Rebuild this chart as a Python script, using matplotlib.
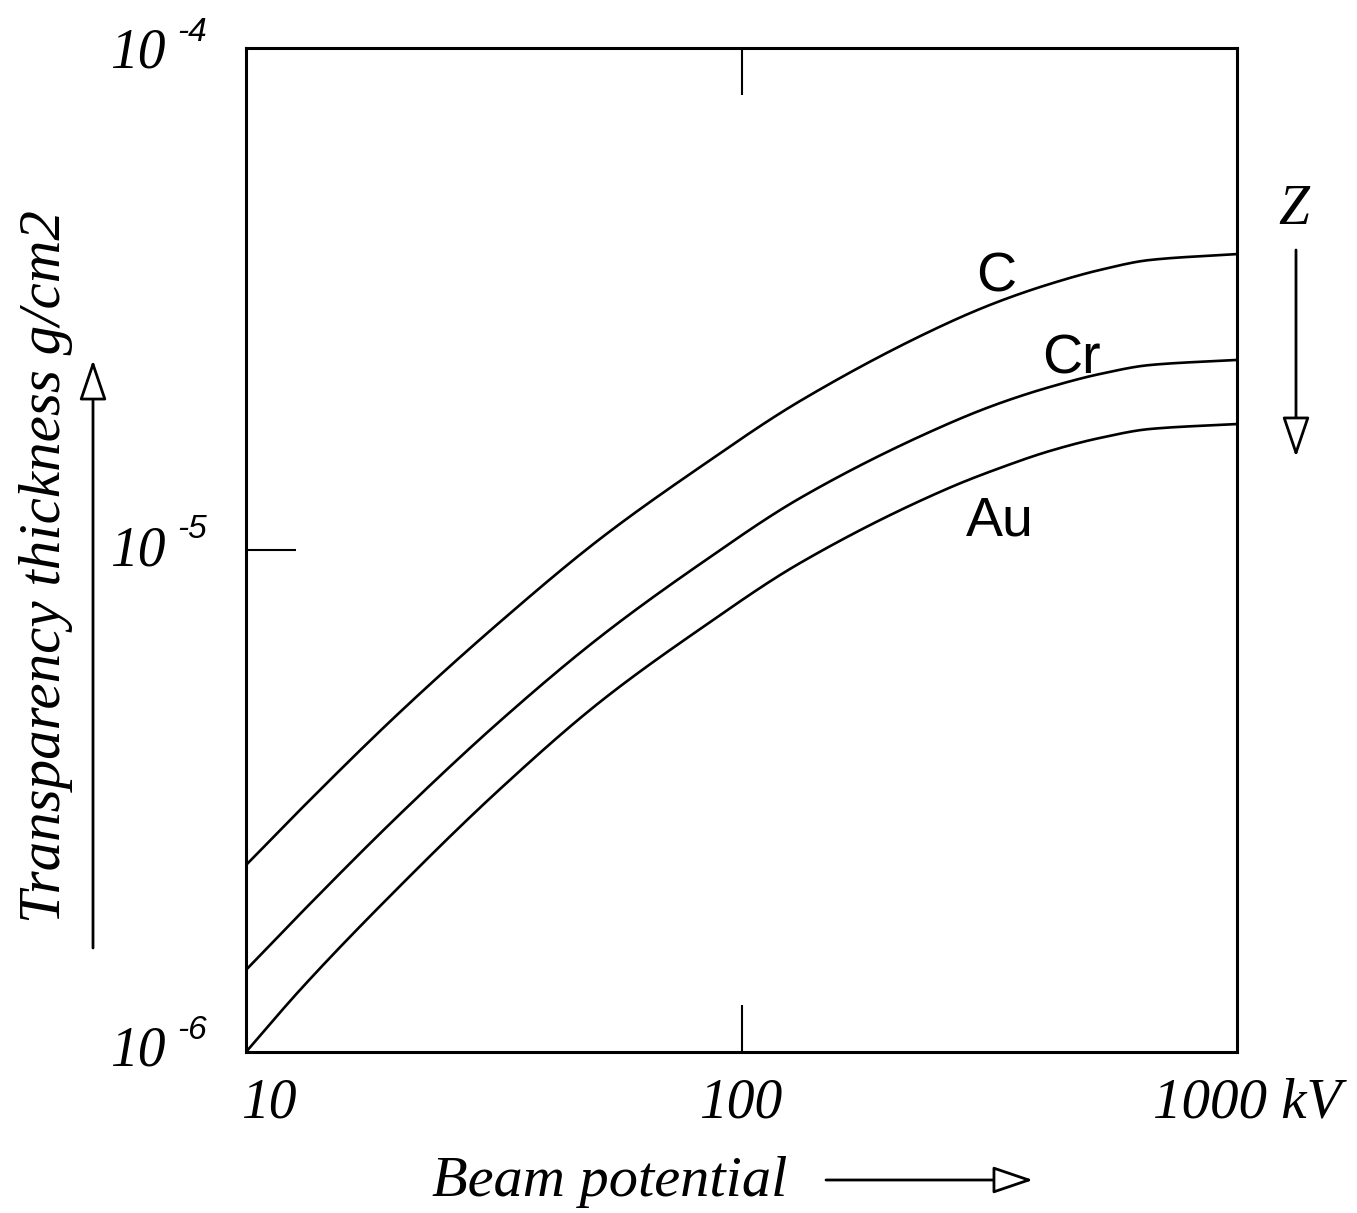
import numpy as np
import matplotlib
matplotlib.use("Agg")
import matplotlib.pyplot as plt
from matplotlib.patches import FancyArrowPatch

# ---- data ----
kv = [10, 12.85, 20.46, 32.56, 51.8, 82.5, 131.3, 263.6, 332.5, 419, 529, 667, 1000]
thick_C = [2.357e-6, 3.035e-6, 4.756e-6, 7.187e-6, 1.052e-5, 1.463e-5, 1.981e-5,
           2.846e-5, 3.133e-5, 3.388e-5, 3.613e-5, 3.782e-5, 3.886e-5]
thick_Cr = [1.457e-6, 1.883e-6, 2.979e-6, 4.565e-6, 6.710e-6, 9.378e-6, 1.269e-5,
            1.791e-5, 1.962e-5, 2.112e-5, 2.242e-5, 2.336e-5, 2.391e-5]
thick_Au = [1.0e-6, 1.329e-6, 2.142e-6, 3.341e-6, 4.980e-6, 6.960e-6, 9.422e-6,
            1.332e-5, 1.457e-5, 1.575e-5, 1.672e-5, 1.742e-5, 1.782e-5]
series_names = ["C", "Cr", "Au"]
xtick_labels = ["10", "100", "1000 kV"]
ytick_exps = ["-6", "-5", "-4"]


def smooth_loglog(xs, ys, n=400):
    """Monotone cubic (Fritsch-Carlson) drawing of the read points in log-log space."""
    x = np.log10(np.asarray(xs, float))
    y = np.log10(np.asarray(ys, float))
    h = np.diff(x)
    d = np.diff(y) / h
    m = np.zeros_like(x)
    m[0], m[-1] = d[0], d[-1]
    for k in range(1, len(x) - 1):
        if d[k - 1] * d[k] <= 0:
            m[k] = 0
        else:
            w1 = 2 * h[k] + h[k - 1]
            w2 = h[k] + 2 * h[k - 1]
            m[k] = (w1 + w2) / (w1 / d[k - 1] + w2 / d[k])
    xx = np.linspace(x[0], x[-1], n)
    idx = np.clip(np.searchsorted(x, xx) - 1, 0, len(x) - 2)
    t = (xx - x[idx]) / h[idx]
    h00 = 2 * t**3 - 3 * t**2 + 1
    h10 = t**3 - 2 * t**2 + t
    h01 = -2 * t**3 + 3 * t**2
    h11 = t**3 - t**2
    yy = h00 * y[idx] + h10 * h[idx] * m[idx] + h01 * y[idx + 1] + h11 * h[idx] * m[idx + 1]
    return 10**xx, 10**yy


W, H = 1357, 1213
fig = plt.figure(figsize=(W / 100, H / 100), dpi=100)
ax = fig.add_axes([246 / W, 1 - 1052 / H, (1237 - 246) / W, (1052 - 48) / H])
ax.set_xscale("log")
ax.set_yscale("log")
ax.set_xlim(10, 1000)
ax.set_ylim(1e-6, 1e-4)

for ys in [thick_C, thick_Cr, thick_Au]:
    sx, sy = smooth_loglog(kv, ys)
    ax.plot(sx, sy, color="black", lw=1.9, solid_capstyle="butt")

for sp in ax.spines.values():
    sp.set_linewidth(2.2)

ax.set_xticks([100])
ax.set_yticks([1e-5])
ax.xaxis.set_minor_locator(matplotlib.ticker.NullLocator())
ax.yaxis.set_minor_locator(matplotlib.ticker.NullLocator())
ax.tick_params(axis="x", which="major", direction="in", length=34, width=1.5,
               top=True, bottom=True, labelbottom=False, labeltop=False)
ax.tick_params(axis="y", which="major", direction="in", length=36, width=1.5,
               left=True, right=False, labelleft=False)


def ftext(px, py, s, **kw):
    return fig.text(px / W, 1 - py / H, s, **kw)


serif = dict(family="Liberation Serif", style="italic", color="black")
sans_it = dict(family="Liberation Sans", style="italic", color="black")
sans = dict(family="Liberation Sans", color="black")

# y tick labels 10^-x
for exp, ybase in zip(ytick_exps, [1066, 565, 68]):
    ftext(110, ybase, "10", fontsize=40, ha="left", va="baseline", **serif)
    ftext(177, ybase - 27, exp, fontsize=24, ha="left", va="baseline", **sans_it)

# x tick labels
ftext(241, 1118, xtick_labels[0], fontsize=40, ha="left", va="baseline", **serif)
ftext(699, 1118, xtick_labels[1], fontsize=40, ha="left", va="baseline", **serif)
ftext(1153, 1118, xtick_labels[2], fontsize=41, ha="left", va="baseline", **serif)

# axis titles
ftext(432, 1196, "Beam potential", fontsize=42, ha="left", va="baseline", **serif)
ftext(46, 567, "Transparency thickness g/cm2", fontsize=42.5, rotation=90,
      ha="center", va="center", **serif)

# curve labels
ftext(976, 292, series_names[0], fontsize=40, ha="left", va="baseline", **sans)
ftext(1042, 373, series_names[1], fontsize=40, ha="left", va="baseline", **sans)
ftext(966, 536, series_names[2], fontsize=40, ha="left", va="baseline", **sans)

# Z label
ftext(1278, 224, "Z", fontsize=40, ha="left", va="baseline", **serif)


def farrow(p0, p1):
    a = FancyArrowPatch((p0[0] / W, 1 - p0[1] / H), (p1[0] / W, 1 - p1[1] / H),
                        transform=fig.transFigure, arrowstyle="-|>,head_length=1.0,head_width=0.34",
                        mutation_scale=25, lw=2.0, ec="black", fc="white",
                        shrinkA=0, shrinkB=0)
    fig.patches.append(a)


farrow((826, 1180), (1033, 1180))
farrow((93, 948), (93, 360))
farrow((1296, 250), (1296, 457))

fig.savefig("out.png", dpi=100, facecolor="white")
